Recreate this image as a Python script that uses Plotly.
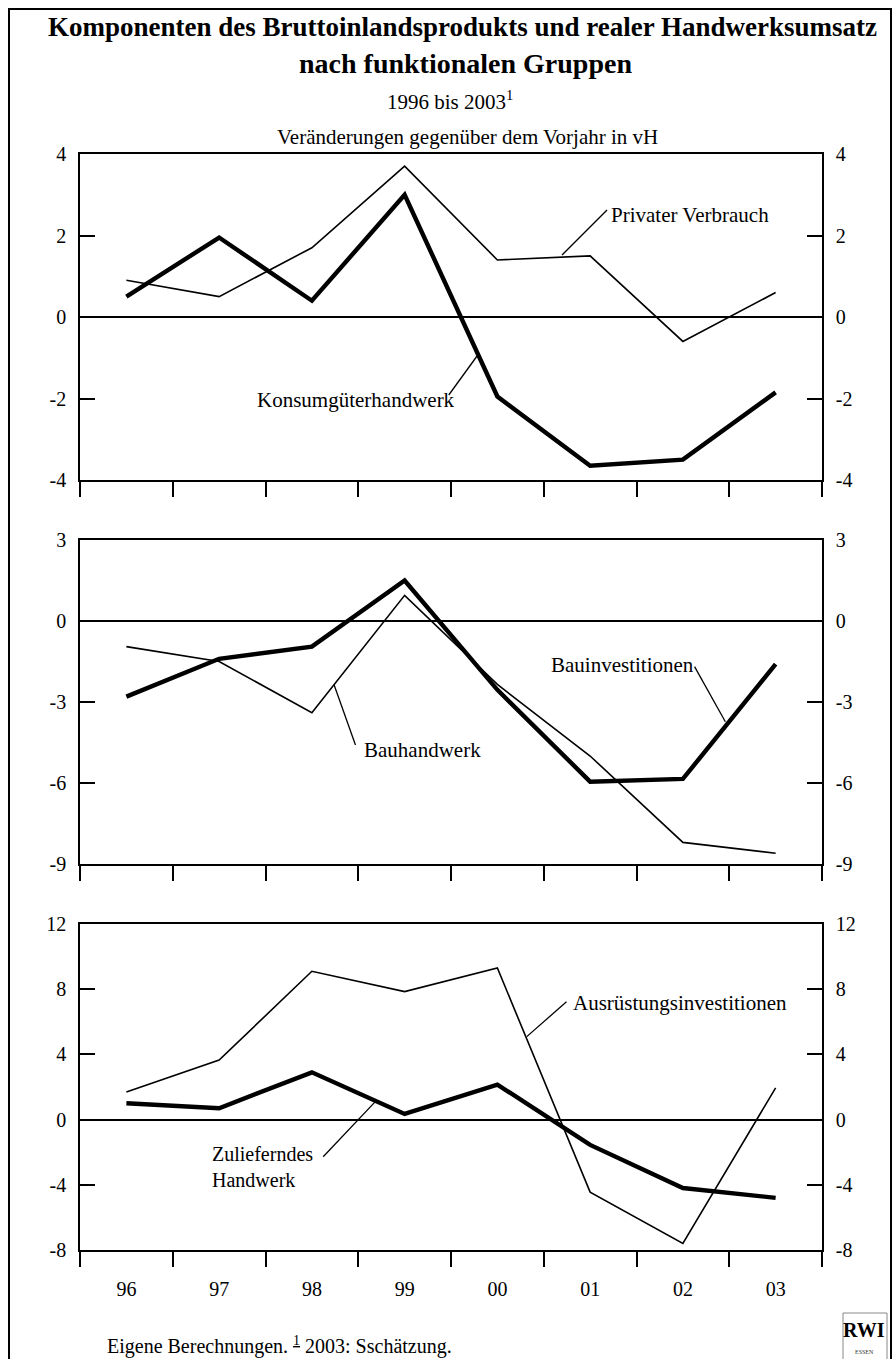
import plotly.graph_objects as go

# ---------------- data ----------------
years = ["96", "97", "98", "99", "00", "01", "02", "03"]

privater_verbrauch = [0.9, 0.5, 1.7, 3.7, 1.4, 1.5, -0.6, 0.6]
konsumgueterhandwerk = [0.5, 1.95, 0.4, 3.0, -1.95, -3.65, -3.5, -1.85]

bauhandwerk = [-0.95, -1.5, -3.4, 0.95, -2.35, -5.0, -8.2, -8.6]
bauinvestitionen = [-2.8, -1.4, -0.95, 1.5, -2.55, -5.95, -5.85, -1.6]

ausruestungsinvestitionen = [1.7, 3.65, 9.1, 7.85, 9.3, -4.45, -7.6, 1.95]
zulieferndes_handwerk = [1.0, 0.7, 2.9, 0.35, 2.15, -1.55, -4.2, -4.8]

ticks_p1 = [-4, -2, 0, 2, 4]
ticks_p2 = [-9, -6, -3, 0, 3]
ticks_p3 = [-8, -4, 0, 4, 8, 12]

# ---------------- styles / layout ----------------
FONT = "Liberation Serif"
W, H = 895, 1359
ML, MR, MT, MB = 80, 73, 154, 109
PH = H - MT - MB
PW = W - ML - MR


def py2paper(py):
    return (H - MB - py) / PH


def px2paper(px):
    return (px - ML) / PW


domains = [
    [py2paper(480), py2paper(154)],
    [py2paper(864), py2paper(540)],
    [py2paper(1250), py2paper(924)],
]
ranges = [[-4, 4], [-9, 3], [-8, 12]]
tickvals = [ticks_p1, ticks_p2, ticks_p3]

panels = [
    (privater_verbrauch, konsumgueterhandwerk),
    (bauhandwerk, bauinvestitionen),
    (ausruestungsinvestitionen, zulieferndes_handwerk),
]

fig = go.Figure()

for k, (thin, thick) in enumerate(panels):
    n = k + 1
    xa = "x" if n == 1 else f"x{n}"
    ya = "y" if n == 1 else f"y{n}"
    yr = f"y{n + 3}"
    fig.add_trace(go.Scatter(x=years, y=thin, mode="lines", xaxis=xa, yaxis=ya,
                             line=dict(color="black", width=1.6), showlegend=False,
                             hoverinfo="skip"))
    fig.add_trace(go.Scatter(x=years, y=thick, mode="lines", xaxis=xa, yaxis=ya,
                             line=dict(color="black", width=4.4), showlegend=False,
                             hoverinfo="skip"))
    # invisible trace to hold the right axis
    fig.add_trace(go.Scatter(x=years, y=thin, mode="lines", xaxis=xa, yaxis=yr,
                             line=dict(color="rgba(0,0,0,0)", width=0), showlegend=False,
                             hoverinfo="skip"))

layout = dict(
    width=W, height=H,
    margin=dict(l=ML, r=MR, t=MT, b=MB),
    paper_bgcolor="white", plot_bgcolor="white",
    font=dict(family=FONT, size=20, color="black"),
    showlegend=False,
)

for k in range(3):
    n = k + 1
    xkey = "xaxis" if n == 1 else f"xaxis{n}"
    ykey = "yaxis" if n == 1 else f"yaxis{n}"
    yrkey = f"yaxis{n + 3}"
    yname = "y" if n == 1 else f"y{n}"
    xname = "x" if n == 1 else f"x{n}"
    ttext = [str(v) for v in tickvals[k]]
    layout[xkey] = dict(
        type="category", categoryorder="array", categoryarray=years,
        range=[-0.5, 7.5], domain=[0, 1], anchor=yname,
        tickson="boundaries", ticks="outside", ticklen=15, tickwidth=1.5,
        tickcolor="black", showline=True, linecolor="black", linewidth=1.5,
        mirror=True, showgrid=False, zeroline=False,
        showticklabels=(n == 3), tickfont=dict(family=FONT, size=20),
        ticklabelstandoff=20,
    )
    layout[ykey] = dict(
        domain=domains[k], anchor=xname, range=ranges[k], tickvals=tickvals[k],
        ticktext=ttext,
        ticks="inside", ticklen=15, tickwidth=1.5, tickcolor="black",
        showline=True, linecolor="black", linewidth=1.5, showgrid=False,
        zeroline=True, zerolinecolor="black", zerolinewidth=1.5,
        tickfont=dict(family=FONT, size=20), ticklabelstandoff=8,
    )
    layout[yrkey] = dict(
        overlaying=yname, side="right", anchor=xname, range=ranges[k],
        tickvals=tickvals[k], ticktext=ttext, ticks="inside", ticklen=15, tickwidth=1.5,
        tickcolor="black", showline=True, linecolor="black", linewidth=1.5,
        showgrid=False, zeroline=False, tickfont=dict(family=FONT, size=20),
        ticklabelstandoff=8,
    )

fig.update_layout(**layout)

# ---------------- labels with leader lines (data coordinates) ----------------
labels = [
    # text, xref, yref, x, y, xanchor, leader (x0, y0, x1, y1)
    ("Privater Verbrauch", "x", "y", 5.203, 2.50, "left", (5.182, 2.626, 4.697, 1.52)),
    ("Konsumgüterhandwerk", "x", "y", 3.565, -2.04, "right", (3.476, -1.914, 3.781, -0.957)),
    ("Bauinvestitionen", "x2", "y2", 6.137, -1.63, "right", (6.126, -1.69, 6.458, -3.73)),
    ("Bauhandwerk", "x2", "y2", 2.540, -4.78, "left", (2.470, -4.59, 2.240, -2.37)),
    ("Ausrüstungsinvestitionen", "x3", "y3", 4.799, 7.17, "left", (4.745, 7.23, 4.317, 5.09)),
    ("Zulieferndes<br>Handwerk", "x3", "y3", 0.902, -2.92, "left", (2.122, -2.28, 2.684, 1.10)),
]

for text, xr, yr_, x, y, xanc, leader in labels:
    fig.add_annotation(text=text, xref=xr, yref=yr_, x=x, y=y, xanchor=xanc,
                       yanchor="middle", align="left", showarrow=False,
                       font=dict(family=FONT, size=21 if "<br>" not in text else 20,
                                 color="black"))
    if leader is not None:
        fig.add_shape(type="line", xref=xr, yref=yr_, x0=leader[0], y0=leader[1],
                      x1=leader[2], y1=leader[3], line=dict(color="black", width=1.3))

# ---------------- titles ----------------
fig.add_annotation(text="<b>Komponenten des Bruttoinlandsprodukts und realer Handwerksumsatz</b>",
                   xref="paper", yref="paper", x=px2paper(462), y=py2paper(27),
                   xanchor="center", yanchor="middle", showarrow=False,
                   font=dict(family=FONT, size=27, color="black"))
fig.add_annotation(text="<b>nach funktionalen Gruppen</b>",
                   xref="paper", yref="paper", x=px2paper(465), y=py2paper(63),
                   xanchor="center", yanchor="middle", showarrow=False,
                   font=dict(family=FONT, size=28, color="black"))
fig.add_annotation(text="1996 bis 2003<sup>1</sup>",
                   xref="paper", yref="paper", x=px2paper(450), y=py2paper(100),
                   xanchor="center", yanchor="middle", showarrow=False,
                   font=dict(family=FONT, size=21, color="black"))
fig.add_annotation(text="Veränderungen gegenüber dem Vorjahr in vH",
                   xref="paper", yref="paper", x=px2paper(467), y=py2paper(137),
                   xanchor="center", yanchor="middle", showarrow=False,
                   font=dict(family=FONT, size=21, color="black"))
fig.add_annotation(text="Eigene Berechnungen. <u><sup>1</sup></u> 2003: Sschätzung.",
                   xref="paper", yref="paper", x=px2paper(105), y=py2paper(1345),
                   xanchor="left", yanchor="middle", showarrow=False,
                   font=dict(family=FONT, size=20, color="black"))

# ---------------- RWI logo ----------------
fig.add_shape(type="rect", xref="paper", yref="paper",
              x0=px2paper(843), x1=px2paper(887), y0=py2paper(1380), y1=py2paper(1313),
              line=dict(color="#888888", width=1), fillcolor="white")
fig.add_annotation(text="<b>RWI</b>", xref="paper", yref="paper",
                   x=px2paper(864), y=py2paper(1330), xanchor="center", yanchor="middle",
                   showarrow=False, font=dict(family=FONT, size=20, color="black"))
fig.add_annotation(text="ESSEN", xref="paper", yref="paper",
                   x=px2paper(864), y=py2paper(1352), xanchor="center", yanchor="middle",
                   showarrow=False, font=dict(family=FONT, size=6, color="#333333"))

# ---------------- outer frame ----------------
fig.add_shape(type="rect", xref="paper", yref="paper",
              x0=px2paper(9), x1=px2paper(891), y0=py2paper(1420), y1=py2paper(9),
              line=dict(color="black", width=2), fillcolor="rgba(0,0,0,0)")

fig.write_html(
    "out.html",
    config={"displayModeBar": False},
    post_script="document.body.style.margin='0';document.body.style.overflow='hidden';",
)
